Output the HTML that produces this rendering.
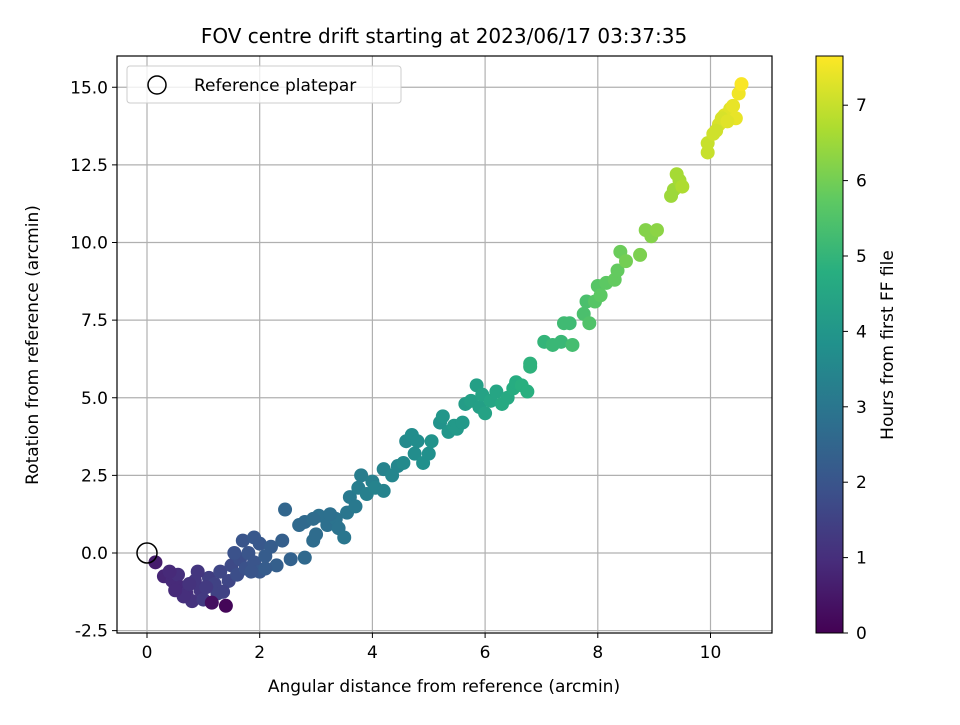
<!DOCTYPE html>
<html><head><meta charset="utf-8"><style>
body{margin:0;background:#fff}
svg{font-family:"DejaVu Sans","Liberation Sans",sans-serif}
</style></head><body>
<svg id="c" width="960" height="720" xmlns="http://www.w3.org/2000/svg">
<defs><linearGradient id="vir" x1="0" y1="1" x2="0" y2="0">
<stop offset="0" stop-color="#440154"/><stop offset="0.125" stop-color="#472d7b"/><stop offset="0.25" stop-color="#3b528b"/><stop offset="0.375" stop-color="#2c728e"/><stop offset="0.5" stop-color="#21918c"/><stop offset="0.625" stop-color="#28ae80"/><stop offset="0.75" stop-color="#5ec962"/><stop offset="0.875" stop-color="#addc30"/><stop offset="1" stop-color="#fde725"/></linearGradient></defs>
<text x="444" y="43" font-size="20" text-anchor="middle">FOV centre drift starting at 2023/06/17 03:37:35</text>
<g id="grid"></g><g id="pts"></g>
<rect x="117" y="56" width="655" height="577" fill="none" stroke="#000" stroke-width="1.2"/>
<g id="ticks"></g>
<text x="444" y="692" font-size="17" text-anchor="middle">Angular distance from reference (arcmin)</text>
<text transform="translate(38,345) rotate(-90)" font-size="17" text-anchor="middle">Rotation from reference (arcmin)</text>
<g>
<rect x="127" y="66" width="274" height="37" rx="3" fill="#fff" fill-opacity="0.8" stroke="#ccc"/>
<circle cx="157" cy="85" r="9" fill="none" stroke="#000" stroke-width="1.5"/>
<text x="194" y="91" font-size="17">Reference platepar</text>
</g>
<rect x="816" y="56" width="27" height="577" fill="url(#vir)"/>
<rect x="816" y="56" width="27" height="577" fill="none" stroke="#000"/>
<g id="cbt"></g>
<text transform="translate(893,345) rotate(-90)" font-size="17" text-anchor="middle">Hours from first FF file</text>
</svg>
<script>
const xs=[0.15,0.3,0.45,0.55,0.6,0.7,0.8,0.65,0.85,0.95,1.0,1.1,1.2,1.25,1.3,1.45,1.5,1.6,1.65,1.75,1.8,1.9,2.0,2.0,2.1,2.2,2.3,2.4,2.45,2.55,1.55,1.7,1.9,0.4,0.5,0.9,1.05,0.75,1.35,2.1,1.85,1.15,1.4,
2.7,2.8,2.8,2.95,3.0,3.05,3.2,3.35,3.4,3.5,3.55,3.6,3.7,3.75,3.8,3.9,4.0,4.05,4.2,4.2,4.35,4.45,4.55,4.6,4.7,4.75,4.8,4.9,5.0,5.05,5.2,5.25,5.35,5.45,5.5,5.6,5.65,5.75,5.85,5.9,5.95,6.0,6.1,6.2,6.3,6.4,6.5,6.55,6.65,6.75,6.8,6.8,7.05,7.2,7.35,7.4,7.5,7.55,7.75,7.8,7.85,7.95,8.0,8.05,8.15,8.3,8.35,8.4,8.5,8.75,8.85,8.95,9.05,9.3,9.35,9.4,9.45,9.5,9.95,9.95,10.05,10.15,10.25,10.35,10.4,10.45,10.5,10.55,10.1,10.2,10.3,2.95,3.25];
const ys=[-0.3,-0.75,-0.9,-0.7,-1.1,-1.3,-1.55,-1.4,-0.9,-1.2,-1.5,-0.8,-1.0,-1.3,-0.6,-0.9,-0.4,-0.7,-0.2,-0.5,0.0,-0.3,0.3,-0.6,-0.1,0.2,-0.4,0.4,1.4,-0.2,0.0,0.4,0.5,-0.6,-1.2,-0.6,-1.1,-1.0,-1.25,-0.5,-0.6,-1.6,-1.7,
0.9,1.0,-0.15,0.4,0.6,1.2,0.9,1.1,0.8,0.5,1.3,1.8,1.5,2.1,2.5,1.9,2.3,2.1,2.0,2.7,2.5,2.8,2.9,3.6,3.8,3.2,3.6,2.9,3.2,3.6,4.2,4.4,3.9,4.1,4.0,4.2,4.8,4.9,5.4,4.7,5.1,4.5,4.9,5.2,4.8,5.0,5.3,5.5,5.4,5.2,6.0,6.1,6.8,6.7,6.8,7.4,7.4,6.7,7.7,8.1,7.4,8.1,8.6,8.3,8.7,8.8,9.1,9.7,9.4,9.6,10.4,10.2,10.4,11.5,11.7,12.2,12.0,11.8,12.9,13.2,13.5,13.8,14.1,14.3,14.4,14.0,14.8,15.1,13.6,14.0,13.9,1.1,1.25];
const ts=[0.6,0.8,0.9,1.0,0.9,1.0,1.1,1.0,1.2,1.2,1.3,1.4,1.5,1.5,1.6,1.6,1.7,1.8,1.8,1.9,2.0,2.0,2.1,2.1,2.2,2.2,2.3,2.3,2.5,2.4,1.9,2.0,2.1,0.9,0.9,1.2,1.3,1.1,1.5,2.2,2.0,0.3,0.1,
2.6,2.6,2.6,2.7,2.7,2.8,2.8,2.9,2.9,3.0,3.0,3.1,3.1,3.2,3.2,3.3,3.3,3.4,3.4,3.4,3.5,3.5,3.6,3.6,3.7,3.7,3.7,3.8,3.8,3.9,3.9,4.0,4.0,4.1,4.1,4.1,4.2,4.3,4.3,4.3,4.4,4.4,4.5,4.5,4.6,4.6,4.7,4.7,4.8,4.8,4.9,4.9,5.0,5.1,5.1,5.2,5.2,5.3,5.4,5.4,5.5,5.6,5.6,5.7,5.7,5.8,5.8,5.9,6.0,6.1,6.2,6.2,6.3,6.5,6.5,6.6,6.6,6.7,7.0,7.0,7.1,7.2,7.3,7.3,7.4,7.4,7.5,7.6,7.1,7.2,7.3,2.7,2.8];
const xTicks=[0,2,4,6,8,10];
const yTicks=[-2.5,0,2.5,5,7.5,10,12.5,15];
const cTicks=[0,1,2,3,4,5,6,7];
const NS="http://www.w3.org/2000/svg";
const X=v=>147+v*56.35, Y=v=>553-v*31.05, C=v=>633-v*75.4, TMAX=7.65;
const vir=[[68,1,84],[71,45,123],[59,82,139],[44,114,142],[33,145,140],[40,174,128],[94,201,98],[173,220,48],[253,231,37]];
function col(t){let f=Math.max(0,Math.min(1,t/TMAX))*8,i=Math.min(7,Math.floor(f)),r=f-i;const a=vir[i],b=vir[i+1];return `rgb(${a.map((v,k)=>Math.round(v+(b[k]-v)*r)).join(',')})`;}
function mk(p,tag,at){const e=document.createElementNS(NS,tag);for(const k in at)e.setAttribute(k,at[k]);p.appendChild(e);return e;}
const g=document.getElementById('grid'),tk=document.getElementById('ticks'),pts=document.getElementById('pts'),cb=document.getElementById('cbt');
xTicks.forEach(v=>{const l=mk(g,'line',{x1:X(v),x2:X(v),y1:56,y2:633,stroke:'#b0b0b0','stroke-width':1.2});


mk(tk,'line',{x1:X(v),x2:X(v),y1:633,y2:638,stroke:'#000'});
const t=mk(tk,'text',{x:X(v),y:658,'font-size':17,'text-anchor':'middle'});t.textContent=v;

});
yTicks.forEach(v=>{const l=mk(g,'line',{x1:117,x2:772,y1:Y(v),y2:Y(v),stroke:'#b0b0b0','stroke-width':1.2});


mk(tk,'line',{x1:112,x2:117,y1:Y(v),y2:Y(v),stroke:'#000'});
const t=mk(tk,'text',{x:108,y:Y(v)+6,'font-size':17,'text-anchor':'end'});t.textContent=v.toFixed(1);

});
cTicks.forEach(v=>{mk(cb,'line',{x1:843,x2:848,y1:C(v),y2:C(v),stroke:'#000'});
const t=mk(cb,'text',{x:856,y:C(v)+6,'font-size':17});t.textContent=v;

});
xs.forEach((x,i)=>{const c=mk(pts,'circle',{cx:X(x),cy:Y(ys[i]),r:7,fill:col(ts[i])});

});
const ref=mk(pts,'circle',{cx:X(0),cy:Y(0),r:10,fill:'none',stroke:'#000','stroke-width':1.5});


</script>
</body></html>
